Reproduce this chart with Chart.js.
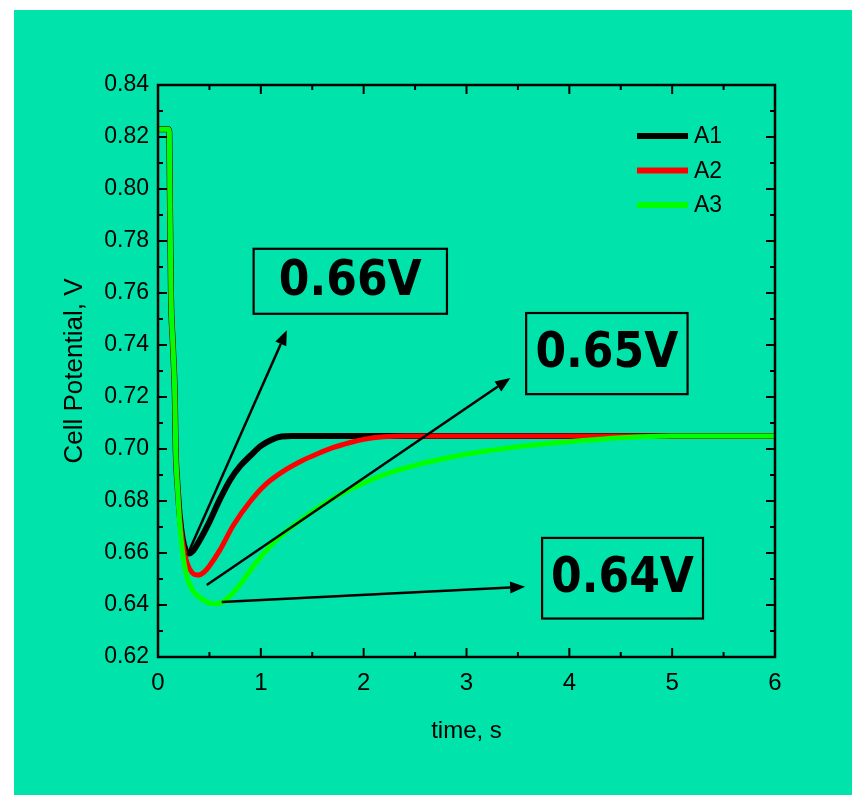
<!DOCTYPE html>
<html>
<head>
<meta charset="utf-8">
<script src="https://cdn.jsdelivr.net/npm/chart.js"></script>
<style>
  html, body { margin: 0; padding: 0; background: #ffffff; }
  #wrap { position: absolute; left: 14px; top: 10px; width: 838px; height: 785px; background: #00E4AB; }
</style>
</head>
<body>
<div id="wrap"><canvas id="myChart" width="838" height="785"></canvas></div>
<script>
// series data (time in s, potential in V)
var a1Time = [0, 0.1, 0.11, 0.115, 0.126, 0.145, 0.164, 0.172, 0.19, 0.21, 0.24, 0.27, 0.3, 0.34, 0.4, 0.5, 0.6, 0.7, 0.8, 0.9, 1.0, 1.1, 1.2, 1.3, 2, 3, 4, 5, 6];
var a1Volt = [0.823, 0.823, 0.822, 0.80, 0.76, 0.74, 0.72, 0.70, 0.686, 0.675, 0.6655, 0.661, 0.6598, 0.6608, 0.6645, 0.672, 0.6805, 0.688, 0.6935, 0.6975, 0.7012, 0.7035, 0.7048, 0.705, 0.705, 0.705, 0.705, 0.705, 0.705];

var a2Time = [0, 0.1, 0.11, 0.115, 0.126, 0.145, 0.164, 0.172, 0.19, 0.21, 0.24, 0.28, 0.33, 0.39, 0.45, 0.5, 0.6, 0.73, 0.9, 1.05, 1.22, 1.4, 1.54, 1.7, 1.87, 2.0, 2.19, 2.4, 3, 4, 5, 6];
var a2Volt = [0.823, 0.823, 0.822, 0.80, 0.76, 0.74, 0.72, 0.70, 0.686, 0.674, 0.664, 0.6565, 0.6525, 0.6515, 0.6527, 0.655, 0.661, 0.6705, 0.68, 0.6865, 0.6915, 0.6955, 0.698, 0.7005, 0.7025, 0.7037, 0.7047, 0.705, 0.705, 0.705, 0.705, 0.705];

var a3Time = [0, 0.1, 0.11, 0.115, 0.126, 0.145, 0.164, 0.172, 0.19, 0.21, 0.24, 0.28, 0.34, 0.44, 0.54, 0.62, 0.7, 0.8, 0.9, 1.0, 1.1, 1.22, 1.4, 1.54, 1.7, 1.87, 2.19, 2.51, 2.84, 3.2, 3.6, 4.0, 4.5, 5.0, 6];
var a3Volt = [0.823, 0.823, 0.822, 0.80, 0.76, 0.74, 0.72, 0.70, 0.685, 0.672, 0.660, 0.651, 0.6455, 0.642, 0.6405, 0.641, 0.6435, 0.648, 0.6535, 0.6585, 0.663, 0.6675, 0.673, 0.677, 0.681, 0.6845, 0.690, 0.6938, 0.6968, 0.6993, 0.7013, 0.7028, 0.7043, 0.705, 0.705];

var seriesNames = ['A1', 'A2', 'A3'];
var xTicks = [0, 1, 2, 3, 4, 5, 6];
var yTicks = [0.62, 0.64, 0.66, 0.68, 0.70, 0.72, 0.74, 0.76, 0.78, 0.80, 0.82, 0.84];

// callouts: label, box corners and arrow (data units)
var calloutText = ['0.66V', '0.65V', '0.64V'];
var calloutBox = [[0.93, 0.777, 2.81, 0.752], [3.58, 0.7523, 5.15, 0.7211], [3.735, 0.6658, 5.30, 0.6348]];
var calloutArrow = [[0.285, 0.6592, 1.253, 0.7457], [0.474, 0.6477, 3.426, 0.7273], [0.62, 0.6412, 3.57, 0.647]];

var FONT = "'Liberation Sans', Arial, sans-serif";

function toPoints(xs, ys) {
  return xs.map(function (x, i) { return { x: x, y: ys[i] }; });
}

function drawArrow(ctx, x1, y1, x2, y2) {
  var ang = Math.atan2(y2 - y1, x2 - x1);
  var len = 15, half = 6;
  var bx = x2 - len * Math.cos(ang), by = y2 - len * Math.sin(ang);
  ctx.beginPath();
  ctx.moveTo(x1, y1);
  ctx.lineTo(bx, by);
  ctx.stroke();
  ctx.beginPath();
  ctx.moveTo(x2, y2);
  ctx.lineTo(bx + half * Math.sin(ang), by - half * Math.cos(ang));
  ctx.lineTo(bx - half * Math.sin(ang), by + half * Math.cos(ang));
  ctx.closePath();
  ctx.fill();
}

var framePlugin = {
  id: 'frame',
  afterDatasetsDraw: function (chart) {
    var ctx = chart.ctx, a = chart.chartArea;
    var xs = chart.scales.x, ys = chart.scales.y;
    ctx.save();
    ctx.strokeStyle = '#000';
    ctx.fillStyle = '#000';

    // frame
    ctx.lineWidth = 2.5;
    ctx.strokeRect(a.left, a.top, a.right - a.left, a.bottom - a.top);

    // ticks on all four sides, pointing in
    ctx.lineWidth = 2;
    xs.ticks.forEach(function (t, i) {
      var px = xs.getPixelForValue(t.value);
      ctx.beginPath();
      ctx.moveTo(px, a.bottom); ctx.lineTo(px, a.bottom - 9);
      ctx.moveTo(px, a.top); ctx.lineTo(px, a.top + 9);
      ctx.stroke();
      if (i < xs.ticks.length - 1) {
        var mx = xs.getPixelForValue((t.value + xs.ticks[i + 1].value) / 2);
        ctx.beginPath();
        ctx.moveTo(mx, a.bottom); ctx.lineTo(mx, a.bottom - 5);
        ctx.moveTo(mx, a.top); ctx.lineTo(mx, a.top + 5);
        ctx.stroke();
      }
    });
    ys.ticks.forEach(function (t, i) {
      var py = ys.getPixelForValue(t.value);
      ctx.beginPath();
      ctx.moveTo(a.left, py); ctx.lineTo(a.left + 9, py);
      ctx.moveTo(a.right, py); ctx.lineTo(a.right - 9, py);
      ctx.stroke();
      if (i < ys.ticks.length - 1) {
        var my = ys.getPixelForValue((t.value + ys.ticks[i + 1].value) / 2);
        ctx.beginPath();
        ctx.moveTo(a.left, my); ctx.lineTo(a.left + 5, my);
        ctx.moveTo(a.right, my); ctx.lineTo(a.right - 5, my);
        ctx.stroke();
      }
    });

    // legend, top right inside the plot
    chart.data.datasets.forEach(function (ds, i) {
      var ly = a.top + 51 + i * 34.5;
      ctx.strokeStyle = ds.borderColor;
      ctx.lineWidth = 6;
      ctx.beginPath();
      ctx.moveTo(a.right - 138, ly); ctx.lineTo(a.right - 87, ly);
      ctx.stroke();
      ctx.fillStyle = '#000';
      ctx.font = '23px ' + FONT;
      ctx.textAlign = 'left';
      ctx.textBaseline = 'middle';
      ctx.fillText(ds.label, a.right - 81, ly + 1);
    });

    // callout boxes and arrows
    ctx.strokeStyle = '#000';
    ctx.fillStyle = '#000';
    calloutText.forEach(function (txt, i) {
      var b = calloutBox[i];
      var x1 = xs.getPixelForValue(b[0]), y1 = ys.getPixelForValue(b[1]);
      var x2 = xs.getPixelForValue(b[2]), y2 = ys.getPixelForValue(b[3]);
      ctx.lineWidth = 2.2;
      ctx.strokeRect(x1, y1, x2 - x1, y2 - y1);
      ctx.font = "bold 49px 'DejaVu Sans Condensed', 'DejaVu Sans', sans-serif";
      ctx.textAlign = 'center';
      ctx.textBaseline = 'middle';
      ctx.fillText(txt, (x1 + x2) / 2, (y1 + y2) / 2 + 1);

      var ar = calloutArrow[i];
      ctx.lineWidth = 2.5;
      drawArrow(ctx, xs.getPixelForValue(ar[0]), ys.getPixelForValue(ar[1]),
        xs.getPixelForValue(ar[2]), ys.getPixelForValue(ar[3]));
    });
    ctx.restore();
  }
};

var ctx = document.getElementById('myChart').getContext('2d');
var chart = new Chart(ctx, {
  type: 'line',
  data: {
    datasets: [{
      label: seriesNames[0],
      data: toPoints(a1Time, a1Volt),
      borderColor: '#000000',
      borderWidth: 6,
      order: 3
    }, {
      label: seriesNames[1],
      data: toPoints(a2Time, a2Volt),
      borderColor: '#FF0000',
      borderWidth: 5,
      order: 2
    }, {
      label: seriesNames[2],
      data: toPoints(a3Time, a3Volt),
      borderColor: '#00FF00',
      borderWidth: 5,
      order: 1
    }]
  },
  options: {
    responsive: false,
    animation: false,
    events: [],
    layout: { padding: { left: 0, top: 75, right: 77, bottom: 0 } },
    elements: {
      point: { radius: 0 },
      line: { cubicInterpolationMode: 'monotone', fill: false, borderCapStyle: 'round', borderJoinStyle: 'round' }
    },
    plugins: {
      legend: { display: false },
      tooltip: { enabled: false }
    },
    scales: {
      x: {
        type: 'linear',
        min: 0,
        max: 6,
        afterFit: function (scale) { scale.height = 138; },
        afterBuildTicks: function (scale) {
          scale.ticks = xTicks.map(function (v) { return { value: v }; });
        },
        grid: { display: false, drawTicks: false },
        border: { display: false },
        ticks: {
          padding: 12,
          color: '#000',
          font: { family: FONT, size: 24 },
          maxRotation: 0,
          callback: function (v) { return String(v); }
        },
        title: {
          display: true,
          text: 'time, s',
          color: '#000',
          font: { family: FONT, size: 24 },
          padding: { top: 0, bottom: 49 }
        }
      },
      y: {
        min: 0.62,
        max: 0.84,
        afterFit: function (scale) { scale.width = 144; },
        afterBuildTicks: function (scale) {
          scale.ticks = yTicks.map(function (v) { return { value: v }; });
        },
        grid: { display: false, drawTicks: false },
        border: { display: false },
        ticks: {
          padding: 9,
          color: '#000',
          font: { family: FONT, size: 23 },
          callback: function (v) { return v.toFixed(2); }
        },
        title: {
          display: true,
          text: 'Cell Potential, V',
          color: '#000',
          font: { family: FONT, size: 26 },
          padding: { top: 45, bottom: 0 }
        }
      }
    }
  },
  plugins: [framePlugin]
});
</script>
</body>
</html>
